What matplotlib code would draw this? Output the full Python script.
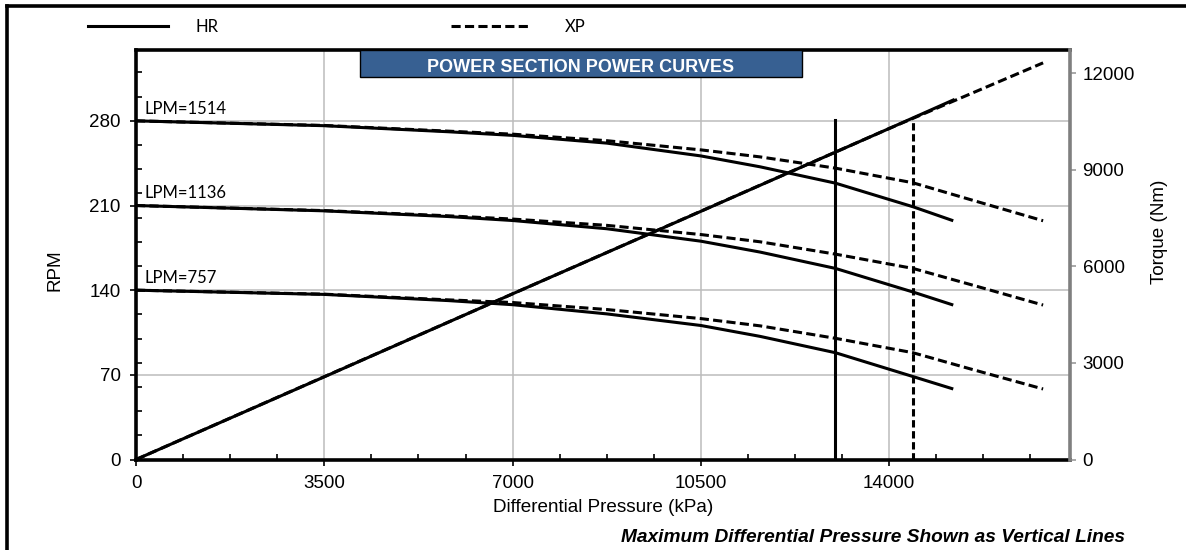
# Libraries
import matplotlib
matplotlib.use("Agg")
import matplotlib.pyplot as plt
from matplotlib.lines import Line2D
from matplotlib.patches import Rectangle
from matplotlib.ticker import MultipleLocator

# Data
hr_dp = [0, 3500, 5800, 7000, 8750, 10500, 11600, 13000, 14440, 15190]
hr_1514 = [280, 276, 271, 268, 261.6, 251, 242, 228.5, 209, 197.4]
hr_1136 = [210, 205.6, 200.9, 197.6, 190.8, 180.5, 171.5, 158, 138.5, 127.7]
hr_757 = [140, 136.5, 131.4, 128, 120.4, 110.8, 101.8, 88.3, 68.6, 58.3]

xp_dp = [0, 3500, 5800, 7000, 8750, 10500, 11600, 13000, 14440, 15500, 16860]
xp_1514 = [280, 276.2, 271.5, 269, 263.6, 256, 250.2, 240.9, 228.8, 215, 197.4]
xp_1136 = [210, 205.8, 201.5, 198.8, 193.6, 186, 180, 169.8, 158, 144.8, 127.7]
xp_757 = [140, 136.7, 132, 129.8, 124, 116.5, 110.5, 100.2, 88.3, 75, 58.3]

hr_torque_dp = [0, 3500, 7000, 10500, 14000, 15190]
hr_torque = [0, 2570, 5150, 7715, 10290, 11175]
xp_torque_dp = [0, 7000, 14000, 16860]
xp_torque = [0, 5150, 10290, 12330]

hr_max_dp = 13000
xp_max_dp = 14450
max_line_top = 281

flow_labels = ['LPM=1514', 'LPM=1136', 'LPM=757']
flow_start_rpm = [280, 210, 140]

W, H = 1186, 550
fig = plt.figure(figsize=(W / 100, H / 100), dpi=100)
ax = fig.add_axes([136 / W, 1 - 459.5 / H, (1070 - 136) / W, (459.5 - 49.5) / H])
ax2 = ax.twinx()

lw = 2.2
dash = (3, 1.4)
arial = 'Liberation Sans'

# RPM curves
for y in (hr_1514, hr_1136, hr_757):
    ax.plot(hr_dp, y, color='black', lw=lw, solid_capstyle='butt', zorder=4)
for y in (xp_1514, xp_1136, xp_757):
    ax.plot(xp_dp, y, color='black', lw=lw, dashes=dash, zorder=3)

# max differential pressure lines
ax.plot([hr_max_dp, hr_max_dp], [0, max_line_top], color='black', lw=lw, zorder=4)
ax.plot([xp_max_dp, xp_max_dp], [0, max_line_top], color='black', lw=lw, dashes=(2.4, 1.2), zorder=4)

for lab, r in zip(flow_labels, flow_start_rpm):
    ax.text(160, r + 3.5, lab, fontsize=12, family='Lato', va='bottom', ha='left')

# torque
ax2.plot(xp_torque_dp, xp_torque, color='black', lw=lw, dashes=dash, zorder=3)
ax2.plot(hr_torque_dp, hr_torque, color='black', lw=lw, zorder=4)

ax.set_xlim(0, 17360)
ax.set_ylim(0, 339)
ax2.set_ylim(0, 12745)

ax.set_xticks([0, 3500, 7000, 10500, 14000])
ax.set_yticks([0, 70, 140, 210, 280])
ax.xaxis.set_minor_locator(MultipleLocator(875))
ax.yaxis.set_minor_locator(MultipleLocator(20))
ax2.set_yticks([0, 3000, 6000, 9000, 12000])

ax.grid(True, which='major', color='#bcbcbc', lw=1.1)
ax.set_axisbelow(True)

ax.tick_params(which='major', direction='out', length=4, width=1.2, labelsize=13.5, pad=7)
ax.tick_params(which='minor', direction='in', length=4, width=1.2)
ax2.tick_params(which='major', direction='out', length=4, width=1.2, color='#999999', labelsize=13.5, pad=5)

for s in ('left', 'bottom', 'top'):
    ax.spines[s].set_linewidth(2.6)
    ax.spines[s].set_color('black')
ax.spines['right'].set_visible(False)
for s in ('left', 'bottom', 'top'):
    ax2.spines[s].set_visible(False)
ax2.spines['right'].set_linewidth(2.6)
ax2.spines['right'].set_color('#7f7f7f')

for t in ax.get_xticklabels() + ax.get_yticklabels() + ax2.get_yticklabels():
    t.set_family(arial)

fig.text(603 / W, 1 - 508 / H, 'Differential Pressure (kPa)', fontsize=13.6, family=arial, ha='center', va='center')
fig.text(55 / W, 1 - 270 / H, 'RPM', fontsize=13.6, family=arial, ha='center', va='center', rotation=90)
fig.text(1160 / W, 1 - 232 / H, 'Torque (Nm)', fontsize=13.6, family=arial, ha='center', va='center', rotation=90)
fig.text(1125 / W, 1 - 538 / H, 'Maximum Differential Pressure Shown as Vertical Lines', fontsize=13.8,
         family=arial, weight='bold', style='italic', ha='right', va='center')

# title box
fig.add_artist(Rectangle((360 / W, 1 - 77 / H), (802 - 360) / W, (77 - 50) / H, transform=fig.transFigure,
                         facecolor='#376092', edgecolor='black', lw=1, zorder=5))
fig.text(581 / W, 1 - 67.5 / H, 'POWER SECTION POWER CURVES', fontsize=13, family=arial,
         weight='bold', color='white', ha='center', va='center', zorder=6)

# legend
fig.add_artist(Line2D([88 / W, 168 / W], [1 - 26 / H, 1 - 26 / H], color='black', lw=lw, transform=fig.transFigure))
fig.text(196 / W, 1 - 27 / H, 'HR', fontsize=12, family='Lato', ha='left', va='center')
fig.add_artist(Line2D([451 / W, 530 / W], [1 - 26 / H, 1 - 26 / H], color='black', lw=lw, dashes=dash,
                      transform=fig.transFigure))
fig.text(565 / W, 1 - 27 / H, 'XP', fontsize=12, family='Lato', ha='left', va='center')

# outer frame
fig.add_artist(Line2D([6.5 / W, 6.5 / W], [0, 1 - 5.5 / H], color='black', lw=2.6, transform=fig.transFigure))
fig.add_artist(Line2D([6.5 / W, 1], [1 - 5.5 / H, 1 - 5.5 / H], color='black', lw=2.6, transform=fig.transFigure))

fig.savefig('out.png', dpi=100)
